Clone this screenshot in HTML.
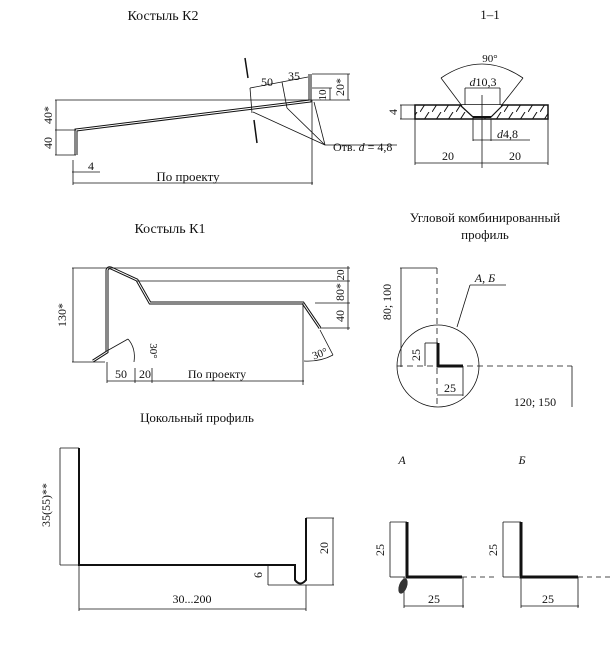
<!DOCTYPE html>
<html><head><meta charset="utf-8"><style>
html,body{margin:0;padding:0;background:#fff;}
svg{display:block;}
text{font-family:"Liberation Serif","DejaVu Serif",serif;fill:#111;}
</style></head><body>
<svg width="613" height="646" viewBox="0 0 613 646" xmlns="http://www.w3.org/2000/svg">
<defs>
<pattern id="h" width="12" height="14" patternUnits="userSpaceOnUse"><line x1="0" y1="14" x2="9" y2="0" stroke="#111" stroke-width="1"/></pattern>
</defs>
<g stroke="#111" fill="none" stroke-width="0.8">
<!-- K2 -->
<path d="M76,155 L76,130 L310,101 L310,74" stroke-width="3"/>
<path d="M76,155 L76,130 L310,101 L310,74" stroke="#fff" stroke-width="1"/>
<line x1="55" y1="100" x2="350" y2="100"/>
<line x1="55" y1="130" x2="76" y2="130"/>
<line x1="55" y1="155" x2="76" y2="155"/>
<line x1="56" y1="100" x2="56" y2="155"/>
<line x1="72" y1="172" x2="100" y2="172"/>
<line x1="73" y1="183" x2="313" y2="183"/>
<line x1="73" y1="160" x2="73" y2="185"/>
<line x1="312" y1="100" x2="312" y2="185"/>
<line x1="245" y1="58" x2="248" y2="78" stroke-width="1.5"/>
<line x1="254" y1="120" x2="257" y2="143" stroke-width="1.5"/>
<line x1="250" y1="88" x2="308" y2="77"/>
<line x1="250" y1="88" x2="252" y2="113"/>
<line x1="282" y1="82" x2="287" y2="108"/>
<line x1="312" y1="74" x2="350" y2="74"/>
<line x1="312" y1="88" x2="332" y2="88"/>
<line x1="330" y1="88" x2="330" y2="100"/>
<line x1="348" y1="74" x2="348" y2="100"/>
<line x1="253" y1="112" x2="325" y2="145"/>
<line x1="287" y1="108" x2="325" y2="145"/>
<line x1="314" y1="102" x2="325" y2="145"/>
<line x1="325" y1="145" x2="397" y2="145"/>
<!-- 1-1 -->
<rect x="415" y="105" width="133" height="14" fill="url(#h)" stroke-width="1.5"/>
<path d="M460,105 L473,117 L491,117 L503,105" fill="#fff" stroke-width="1.2"/>
<line x1="473" y1="117" x2="491" y2="117" stroke-width="2"/>
<line x1="482" y1="95" x2="482" y2="168"/>
<line x1="441" y1="78" x2="462" y2="106"/>
<line x1="523" y1="78" x2="501" y2="106"/>
<path d="M441,78 Q482,50 523,78"/>
<line x1="465" y1="88" x2="500" y2="88"/>
<line x1="465" y1="88" x2="465" y2="105"/>
<line x1="500" y1="88" x2="500" y2="105"/>
<line x1="473" y1="119" x2="473" y2="141"/>
<line x1="491" y1="119" x2="491" y2="141"/>
<line x1="473" y1="140" x2="530" y2="140"/>
<line x1="400" y1="105" x2="415" y2="105"/>
<line x1="400" y1="119" x2="415" y2="119"/>
<line x1="401" y1="105" x2="401" y2="119"/>
<line x1="415" y1="119" x2="415" y2="165"/>
<line x1="548" y1="119" x2="548" y2="165"/>
<line x1="415" y1="163" x2="548" y2="163"/>
<!-- K1 -->
<path d="M93,361 L107,352 L107,270 Q108,267 111,268 L137,280 L150,303 L303,303 L320,328" stroke-width="3"/>
<path d="M93,361 L107,352 L107,270 Q108,267 111,268 L137,280 L150,303 L303,303 L320,328" stroke="#fff" stroke-width="1"/>
<line x1="72" y1="268" x2="350" y2="268"/>
<line x1="137" y1="281" x2="350" y2="281"/>
<line x1="315" y1="303" x2="350" y2="303"/>
<line x1="320" y1="328" x2="350" y2="328"/>
<line x1="348" y1="266" x2="348" y2="330"/>
<line x1="73" y1="268" x2="73" y2="362"/>
<line x1="72" y1="362" x2="105" y2="362"/>
<line x1="105" y1="352" x2="128" y2="339"/>
<path d="M128,339 Q136,348 134,362"/>
<line x1="320" y1="330" x2="333" y2="355"/>
<path d="M304,361 Q320,362 333,355"/>
<line x1="107" y1="362" x2="107" y2="383"/>
<line x1="135" y1="368" x2="135" y2="383"/>
<line x1="152" y1="368" x2="152" y2="383"/>
<line x1="303" y1="303" x2="303" y2="385"/>
<line x1="107" y1="381" x2="304" y2="381"/>
<!-- corner profile -->
<circle cx="438" cy="366" r="41"/>
<line x1="437" y1="268" x2="437" y2="408" stroke-dasharray="6,4"/>
<line x1="397" y1="366" x2="572" y2="366" stroke-dasharray="6,4"/>
<path d="M438,343 L438,366 L463,366" stroke-width="3"/>
<line x1="425" y1="343" x2="438" y2="343"/>
<line x1="425" y1="343" x2="425" y2="366"/>
<line x1="463" y1="366" x2="463" y2="396"/>
<line x1="437" y1="395" x2="463" y2="395"/>
<line x1="400" y1="268" x2="437" y2="268"/>
<line x1="401" y1="268" x2="401" y2="367"/>
<line x1="572" y1="366" x2="572" y2="407"/>
<line x1="470" y1="285" x2="506" y2="285"/>
<line x1="470" y1="285" x2="457" y2="327"/>
<!-- plinth -->
<path d="M79,448 L79,565 L295,565 L295,580 Q300,587 306,580 L306,518" stroke-width="2"/>
<line x1="60" y1="448" x2="79" y2="448"/>
<line x1="60" y1="448" x2="60" y2="565"/>
<line x1="60" y1="565" x2="79" y2="565"/>
<line x1="306" y1="518" x2="334" y2="518"/>
<line x1="333" y1="518" x2="333" y2="585"/>
<line x1="268" y1="585" x2="334" y2="585"/>
<line x1="268" y1="565" x2="295" y2="565"/>
<line x1="268" y1="565" x2="268" y2="585"/>
<line x1="79" y1="565" x2="79" y2="611"/>
<line x1="306" y1="585" x2="306" y2="611"/>
<line x1="79" y1="609" x2="306" y2="609"/>
<!-- A -->
<path d="M407,522 L407,577 L462,577" stroke-width="3"/>
<line x1="462" y1="577" x2="498" y2="577" stroke-dasharray="5,4"/>
<line x1="390" y1="522" x2="407" y2="522"/>
<line x1="390" y1="577" x2="405" y2="577"/>
<line x1="390" y1="522" x2="390" y2="577"/>
<line x1="404" y1="577" x2="404" y2="608"/>
<line x1="463" y1="577" x2="463" y2="608"/>
<line x1="404" y1="606" x2="464" y2="606"/>
<!-- B -->
<path d="M521,522 L521,577 L578,577" stroke-width="3"/>
<line x1="578" y1="577" x2="610" y2="577" stroke-dasharray="5,4"/>
<line x1="503" y1="522" x2="521" y2="522"/>
<line x1="503" y1="577" x2="519" y2="577"/>
<line x1="503" y1="522" x2="503" y2="577"/>
<line x1="521" y1="577" x2="521" y2="608"/>
<line x1="578" y1="577" x2="578" y2="608"/>
<line x1="521" y1="606" x2="579" y2="606"/>
</g>
<ellipse cx="403" cy="586" rx="4" ry="8" fill="#333" transform="rotate(20 403 586)"/>
<g font-size="13">
<text x="163" y="20" text-anchor="middle" font-size="14">Костыль К2</text>
<text x="490" y="19" text-anchor="middle">1–1</text>
<text x="170" y="233" text-anchor="middle" font-size="14">Костыль К1</text>
<text x="485" y="222" text-anchor="middle">Угловой комбинированный</text>
<text x="485" y="239" text-anchor="middle">профиль</text>
<text x="197" y="422" text-anchor="middle">Цокольный профиль</text>
<text x="188" y="181" text-anchor="middle">По проекту</text>
<text x="88" y="170" font-size="12">4</text>
<text x="261" y="86" font-size="12">50</text>
<text x="288" y="80" font-size="12">35</text>
<text x="333" y="151" font-size="12">Отв. <tspan font-style="italic">d</tspan> = 4,8</text>
<text x="52" y="115" font-size="12" text-anchor="middle" transform="rotate(-90 52 115)">40*</text>
<text x="52" y="143" font-size="12" text-anchor="middle" transform="rotate(-90 52 143)">40</text>
<text x="326" y="95" font-size="11" text-anchor="middle" transform="rotate(-90 326 95)">10</text>
<text x="344" y="87" font-size="12" text-anchor="middle" transform="rotate(-90 344 87)">20*</text>
<text x="490" y="62" font-size="11" text-anchor="middle">90°</text>
<text x="483" y="86" font-size="12" text-anchor="middle"><tspan font-style="italic">d</tspan>10,3</text>
<text x="497" y="138" font-size="12"><tspan font-style="italic">d</tspan>4,8</text>
<text x="397" y="112" font-size="12" text-anchor="middle" transform="rotate(-90 397 112)">4</text>
<text x="448" y="160" font-size="12" text-anchor="middle">20</text>
<text x="515" y="160" font-size="12" text-anchor="middle">20</text>
<text x="344" y="275" font-size="11" text-anchor="middle" transform="rotate(-90 344 275)">20</text>
<text x="344" y="292" font-size="12" text-anchor="middle" transform="rotate(-90 344 292)">80*</text>
<text x="344" y="316" font-size="12" text-anchor="middle" transform="rotate(-90 344 316)">40</text>
<text x="66" y="315" font-size="12" text-anchor="middle" transform="rotate(-90 66 315)">130*</text>
<text x="150" y="351" font-size="11" text-anchor="middle" transform="rotate(90 150 351)">30°</text>
<text x="321" y="357" font-size="11" text-anchor="middle" transform="rotate(-20 321 357)">30°</text>
<text x="121" y="378" font-size="12" text-anchor="middle">50</text>
<text x="145" y="378" font-size="12" text-anchor="middle">20</text>
<text x="217" y="378" font-size="12" text-anchor="middle">По проекту</text>
<text x="485" y="282" font-size="12" font-style="italic" text-anchor="middle">А, Б</text>
<text x="391" y="302" font-size="12" text-anchor="middle" transform="rotate(-90 391 302)">80; 100</text>
<text x="420" y="355" font-size="12" text-anchor="middle" transform="rotate(-90 420 355)">25</text>
<text x="450" y="392" font-size="12" text-anchor="middle">25</text>
<text x="535" y="406" font-size="12" text-anchor="middle">120; 150</text>
<text x="50" y="505" font-size="12" text-anchor="middle" transform="rotate(-90 50 505)">35(55)**</text>
<text x="328" y="548" font-size="12" text-anchor="middle" transform="rotate(-90 328 548)">20</text>
<text x="262" y="575" font-size="12" text-anchor="middle" transform="rotate(-90 262 575)">6</text>
<text x="192" y="603" font-size="12" text-anchor="middle">30...200</text>
<text x="402" y="464" font-size="12" font-style="italic" text-anchor="middle">А</text>
<text x="522" y="464" font-size="12" font-style="italic" text-anchor="middle">Б</text>
<text x="384" y="550" font-size="12" text-anchor="middle" transform="rotate(-90 384 550)">25</text>
<text x="434" y="603" font-size="12" text-anchor="middle">25</text>
<text x="497" y="550" font-size="12" text-anchor="middle" transform="rotate(-90 497 550)">25</text>
<text x="548" y="603" font-size="12" text-anchor="middle">25</text>
</g>
</svg>
</body></html>
